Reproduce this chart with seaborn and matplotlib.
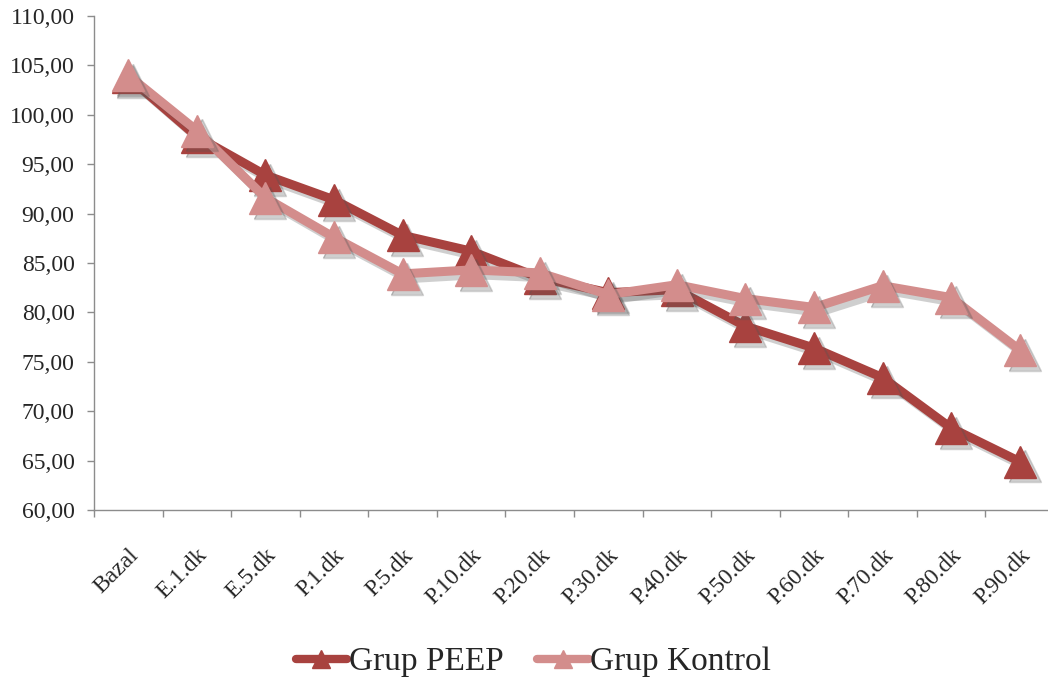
import matplotlib
matplotlib.use("Agg")
import matplotlib.pyplot as plt
import matplotlib.patheffects as pe
from matplotlib.ticker import FixedLocator, FuncFormatter
import numpy as np
import pandas as pd
import seaborn as sns

# Time points
categories = ["Bazal", "E.1.dk", "E.5.dk", "P.1.dk", "P.5.dk", "P.10.dk", "P.20.dk",
              "P.30.dk", "P.40.dk", "P.50.dk", "P.60.dk", "P.70.dk", "P.80.dk", "P.90.dk"]

# Group means
peep = [103.8, 97.8, 93.9, 91.4, 87.8, 86.2, 83.5, 82.0, 82.3, 78.6, 76.4, 73.4, 68.3, 64.9]
kontrol = [104.0, 98.4, 91.6, 87.6, 83.9, 84.3, 84.0, 81.8, 82.8, 81.4, 80.5, 82.7, 81.5, 76.2]

series_names = ["Grup PEEP", "Grup Kontrol"]
y_ticks = [60, 65, 70, 75, 80, 85, 90, 95, 100, 105, 110]

colors = {"Grup PEEP": "#A8423F", "Grup Kontrol": "#D38D8C"}

df = pd.DataFrame({
    "zaman": categories * 2,
    "deger": peep + kontrol,
    "grup": [series_names[0]] * len(categories) + [series_names[1]] * len(categories),
})

sns.set_style("white")
plt.rcParams["font.family"] = ["Liberation Serif", "DejaVu Serif"]

fig = plt.figure(figsize=(10.48, 6.84), dpi=100)
fig.patch.set_facecolor("white")
ax = fig.add_axes([0.0897, 0.2544, 0.9160, 0.7222])

# soft drop shadows: stroke-only for the lines, filled for the markers
line_shadow = [
    pe.SimpleLineShadow(offset=(3.5, -3.5), shadow_color="#555555", alpha=0.28),
    pe.Normal(),
]
marker_shadow = [
    pe.SimpleLineShadow(offset=(3.5, -3.5), shadow_color="#555555", alpha=0.28),
    pe.SimplePatchShadow(offset=(3.5, -3.5), shadow_rgbFace="#555555", alpha=0.28),
    pe.Normal(),
]

for name in series_names:
    sub = df[df["grup"] == name]
    sns.lineplot(data=sub, x="zaman", y="deger", ax=ax, sort=False,
                 color=colors[name], linewidth=6.5, legend=False,
                 path_effects=line_shadow)
    sns.lineplot(data=sub, x="zaman", y="deger", ax=ax, sort=False,
                 color=colors[name], linestyle="none", marker="^", markersize=23,
                 markeredgecolor=colors[name], markeredgewidth=1, legend=False,
                 path_effects=marker_shadow)

n = len(categories)
ax.set_xlim(-0.5, n - 0.5)
ax.set_ylim(min(y_ticks), max(y_ticks))
ax.set_xlabel("")
ax.set_ylabel("")

# category boundaries as ticks, labels at category centres
ax.xaxis.set_major_locator(FixedLocator(np.arange(-0.5, n, 1.0)))
ax.xaxis.set_major_formatter(FuncFormatter(lambda v, p: ""))
ax.set_xticks(np.arange(n), minor=True)
ax.set_xticklabels(categories, minor=True, rotation=45, ha="right",
                   rotation_mode="anchor", fontsize=17)
ax.tick_params(axis="x", which="minor", length=0, pad=25)
ax.tick_params(axis="x", which="major", length=5, width=1, color="#8c8c8c",
               direction="out", bottom=True)

ax.set_yticks(y_ticks)
ax.yaxis.set_major_formatter(FuncFormatter(lambda v, p: f"{v:.2f}".replace(".", ",")))
ax.tick_params(axis="y", length=5, width=1, color="#8c8c8c", direction="out",
               labelsize=17, pad=9, left=True)

for side in ["top", "right"]:
    ax.spines[side].set_visible(False)
for side in ["left", "bottom"]:
    ax.spines[side].set_color("#8c8c8c")
    ax.spines[side].set_linewidth(1)
ax.grid(False)
ax.set_facecolor("white")

handles = [plt.Line2D([], [], color=colors[nm], linewidth=6, marker="^",
                      markersize=13, markeredgecolor=colors[nm]) for nm in series_names]
fig.legend(handles, series_names, loc="center", bbox_to_anchor=(0.509, 0.032),
           ncol=2, frameon=False, fontsize=24, handlelength=1.55,
           handletextpad=0.05, columnspacing=1.0)

fig.savefig("out.png", dpi=100, facecolor="white")
